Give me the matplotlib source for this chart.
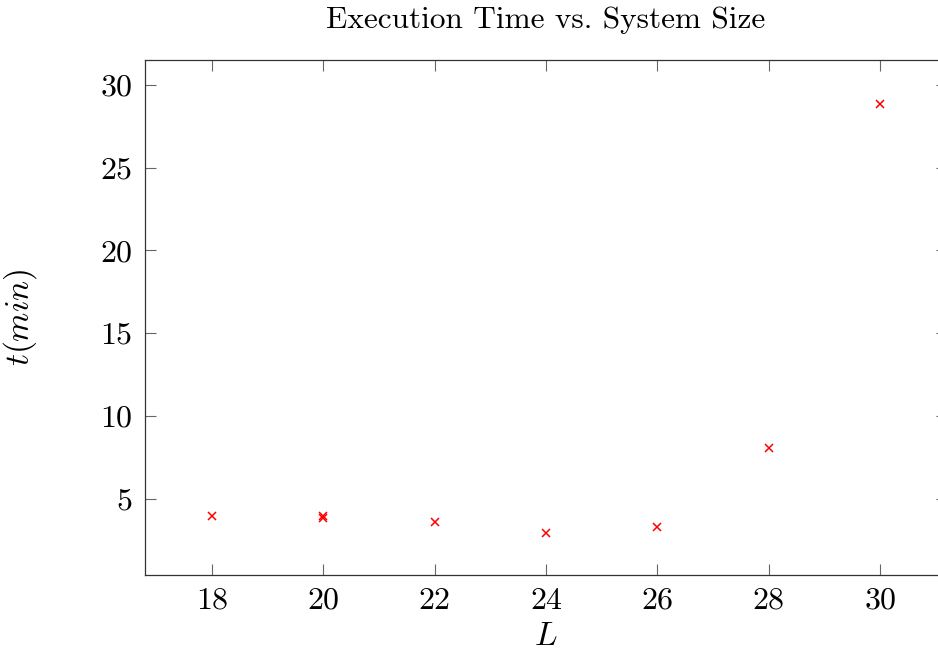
import matplotlib.pyplot as plt

plt.rcParams['font.family'] = 'serif'
plt.rcParams['font.serif'] = ['cmr10']
plt.rcParams['mathtext.fontset'] = 'cm'
plt.rcParams['axes.formatter.use_mathtext'] = True

# system size L and measured run times (minutes)
L = [18, 20, 20, 22, 24, 26, 28, 30]
t_min = [3.98, 4.0, 3.85, 3.62, 2.95, 3.3, 8.1, 28.85]

W, H = 938, 653
fig = plt.figure(figsize=(W / 100, H / 100), dpi=100)
ax = fig.add_axes([145 / W, (H - 575) / H, (947 - 145) / W, (575 - 60) / H])

ax.plot(L, t_min, linestyle='none', marker='x', color='red',
        markersize=5.2, markeredgewidth=1.1)

ax.set_xlim(16.8, 31.2)
ax.set_ylim(0.41, 31.49)
ax.set_xticks([18, 20, 22, 24, 26, 28, 30])
ax.set_yticks([5, 10, 15, 20, 25, 30])
ax.tick_params(direction='in', length=8, width=0.8, color='0.4',
               top=True, right=True, labelsize=23, pad=9)
for s in ax.spines.values():
    s.set_linewidth(0.9)
    s.set_color('0.2')

ax.set_title('Execution Time vs. System Size', fontsize=22.5, pad=23)
ax.set_xlabel('$L$', fontsize=24, labelpad=5)
ax.set_ylabel('$t(min)$', fontsize=24, labelpad=44)

fig.savefig('out.png', dpi=100)
